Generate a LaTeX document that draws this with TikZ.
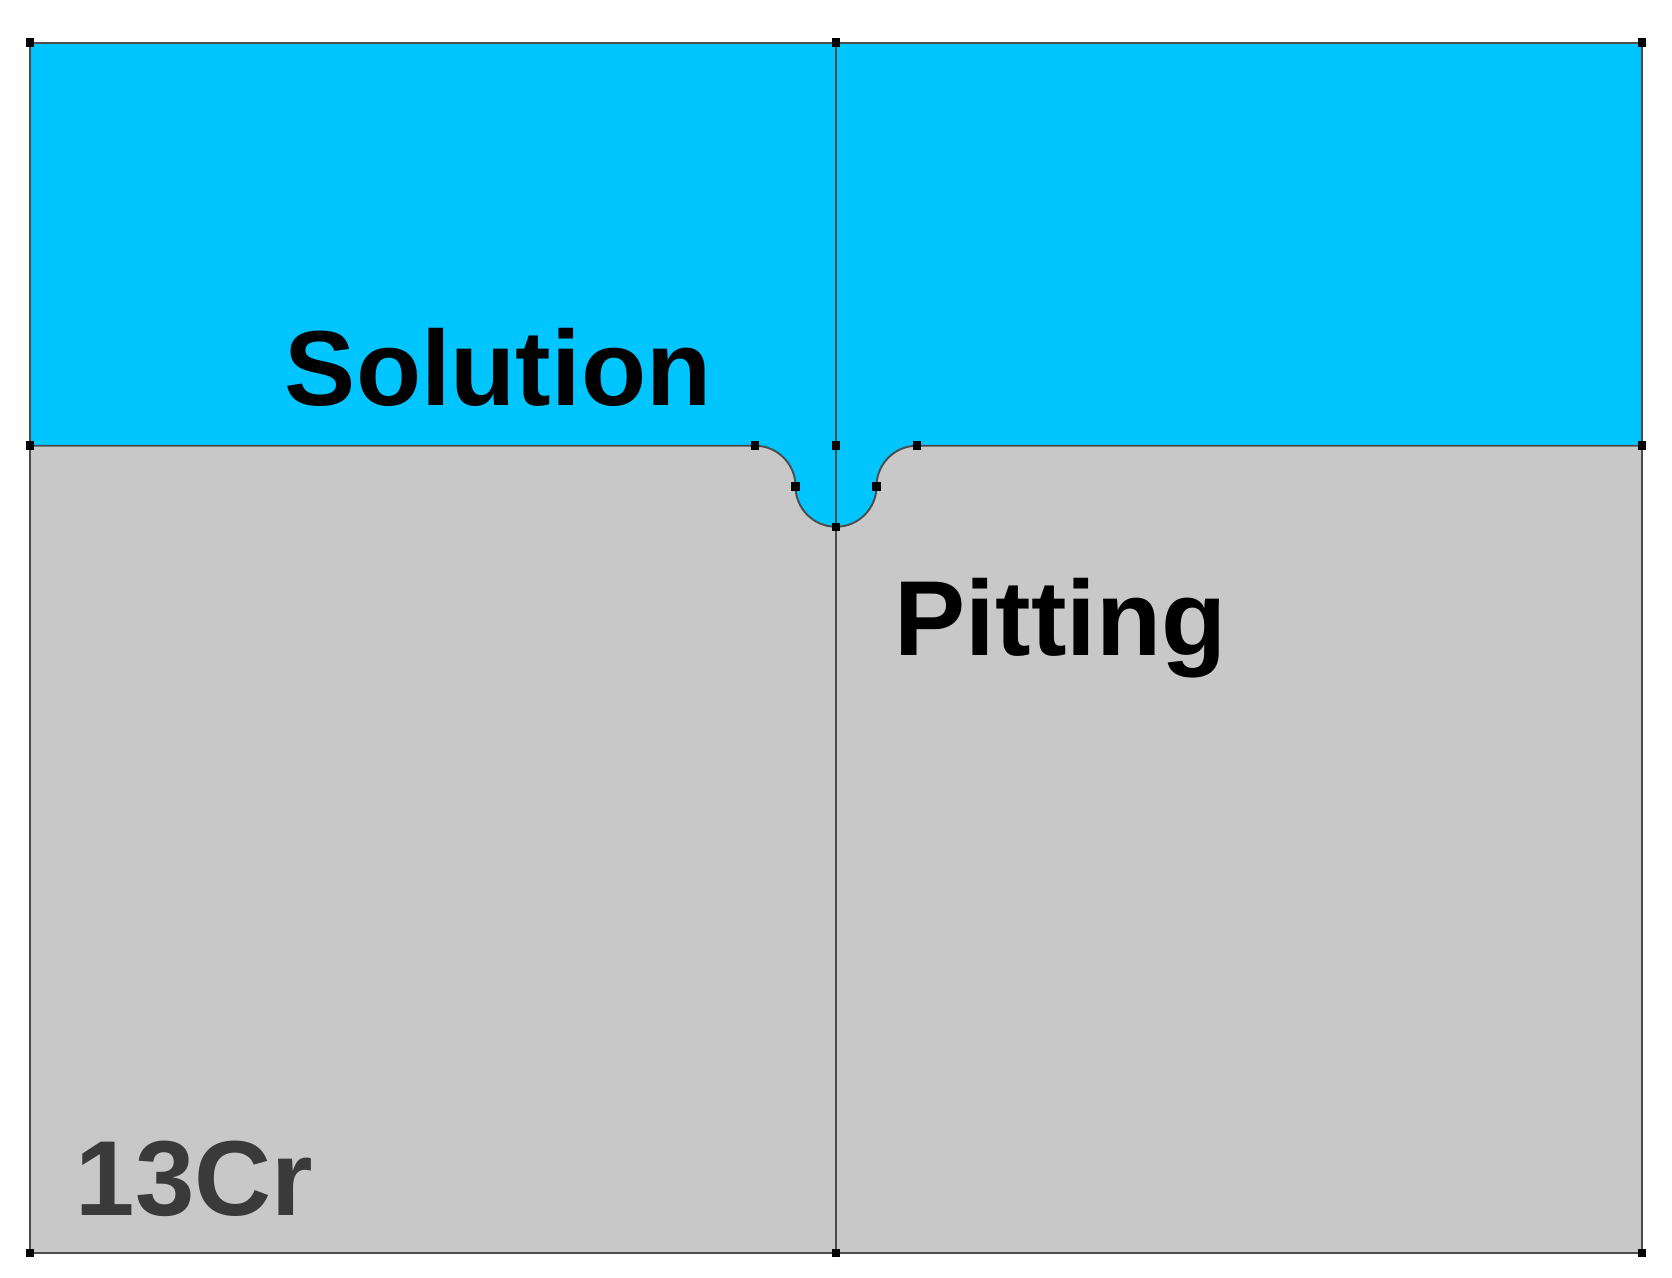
\documentclass[tikz,border=0pt]{standalone}
\usepackage{fontspec}
\setmainfont{Liberation Sans}
\definecolor{sol}{RGB}{0,197,255}
\definecolor{metal}{RGB}{200,200,200}
\definecolor{txt}{RGB}{58,58,58}
\begin{document}
\begin{tikzpicture}[x=1pt,y=-1pt,
  dot/.style={fill=black,minimum size=8pt,inner sep=0pt,draw=none},
  edge/.style={draw=black!70,line width=1.8pt},
  lbl/.style={font=\bfseries\fontsize{100}{100}\selectfont,anchor=base west,inner sep=0pt}]
\useasboundingbox (0,0) rectangle (1568,1198);
\fill[metal] (28,418) rectangle (1540,1175);
\fill[sol] (28,40) rectangle (1540,418);
\fill[sol] (708,418) arc[start angle=-90,end angle=0,radius=38] arc[start angle=180,end angle=0,radius=38] arc[start angle=180,end angle=270,radius=38] -- cycle;
\draw[edge] (28,40) rectangle (1540,1175);
\draw[edge] (784,40) -- (784,1175);
\draw[edge] (28,418) -- (708,418) arc[start angle=-90,end angle=0,radius=38] arc[start angle=180,end angle=0,radius=38] arc[start angle=180,end angle=270,radius=38] -- (1540,418);
\foreach \p in {(28,40),(784,40),(1540,40),(28,418),(708,418),(784,418),(860,418),(1540,418),(746,456),(822,456),(784,494),(28,1175),(784,1175),(1540,1175)}
  \node[dot] at \p {};
\node[lbl] (s) at (267,380) {Solution};
\node[lbl] (p) at (839,615) {Pitting};
\node[lbl,text=txt] (c) at (71,1140) {13Cr};
\end{tikzpicture}
\end{document}
